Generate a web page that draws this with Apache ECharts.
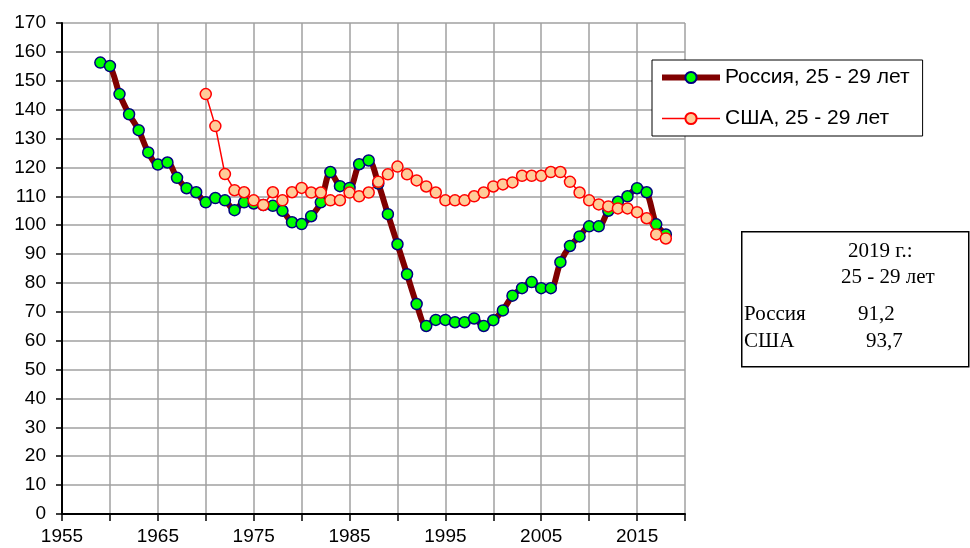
<!DOCTYPE html>
<html>
<head>
<meta charset="utf-8">
<script src="https://cdn.jsdelivr.net/npm/echarts@6/dist/echarts.min.js"></script>
<style>
  html, body { margin: 0; padding: 0; background: #fff; }
  #chart { width: 970px; height: 548px; }
</style>
</head>
<body>
<div id="chart"></div>
<script>
// первая точка рядов
const RU_START = 1959;
const US_START = 1970;

const ruValues = [
  156.3, 155.1, 145.4, 138.4, 132.9, 125.2, 121.0, 121.7, 116.4, 112.8,
  111.4, 107.9, 109.4, 108.6, 105.2, 107.9, 107.5, 107.0, 106.7, 105.0,
  101.0, 100.4, 103.1, 107.9, 118.4, 113.5, 112.9, 121.1, 122.4, 114.4,
  103.8, 93.4, 83.0, 72.7, 65.1, 67.2, 67.2, 66.4, 66.4, 67.7,
  65.1, 67.1, 70.5, 75.6, 78.2, 80.3, 78.2, 78.2, 87.2, 92.8,
  96.1, 99.6, 99.6, 105.0, 108.1, 110.0, 112.8, 111.4, 100.3, 96.8
];

const usValues = [
  145.4, 134.3, 117.7, 112.1, 111.4, 108.6, 107.0, 111.4, 108.6, 111.4,
  112.9, 111.3, 111.3, 108.6, 108.6, 111.3, 110.0, 111.3, 115.0, 117.6,
  120.3, 117.6, 115.5, 113.4, 111.3, 108.6, 108.6, 108.6, 110.0, 111.3,
  113.4, 114.1, 114.8, 117.1, 117.1, 117.1, 118.4, 118.4, 115.0, 111.3,
  108.6, 107.2, 106.5, 105.8, 105.8, 104.5, 102.4, 96.8, 95.4
];

const seriesNames = ['Россия, 25 - 29 лет', 'США, 25 - 29 лет'];
const noteLines = ['2019 г.:', '25 - 29 лет'];
const noteRows = [['Россия', '91,2'], ['США', '93,7']];

const ruData = ruValues.map((v, i) => [RU_START + i, v]);
const usData = usValues.map((v, i) => [US_START + i, v]);

const chart = echarts.init(document.getElementById('chart'));

const serifFont = '21px "Liberation Serif", "Times New Roman"';

const option = {
  animation: false,
  backgroundColor: '#fff',
  grid: { left: 62, right: 285, top: 23, bottom: 34, containLabel: false },
  legend: {
    orient: 'vertical',
    left: 652,
    top: 60,
    padding: [7, 13, 7, 7],
    itemWidth: 58,
    itemHeight: 14,
    itemGap: 20,
    backgroundColor: '#fff',
    borderColor: '#000',
    borderWidth: 1,
    borderRadius: 0,
    textStyle: { fontFamily: 'Liberation Sans, Arial', fontSize: 21, color: '#000' },
    data: [
      { name: seriesNames[0], lineStyle: { width: 6, color: '#800000' } },
      { name: seriesNames[1], lineStyle: { width: 1.5, color: '#ff0000' } }
    ]
  },
  xAxis: {
    type: 'value',
    min: 1955,
    max: 2020,
    interval: 5,
    axisLine: { show: true, onZero: false, lineStyle: { color: '#000', width: 2 } },
    axisTick: { show: true, inside: false, length: 7, lineStyle: { color: '#000', width: 1.5 } },
    axisLabel: {
      margin: 13,
      fontFamily: 'Liberation Sans, Arial',
      fontSize: 19,
      color: '#000',
      formatter: v => ((v - 1955) % 10 === 0 ? String(v) : '')
    },
    splitLine: { show: true, lineStyle: { color: '#a0a0a0', width: 1.5 } }
  },
  yAxis: {
    type: 'value',
    min: 0,
    max: 170,
    interval: 10,
    axisLine: { show: true, lineStyle: { color: '#000', width: 2 } },
    axisTick: { show: true, inside: false, length: 6, lineStyle: { color: '#000', width: 1.5 } },
    axisLabel: { margin: 16, fontFamily: 'Liberation Sans, Arial', fontSize: 19, color: '#000' },
    splitLine: { show: true, lineStyle: { color: '#a0a0a0', width: 1.5 } }
  },
  series: [
    {
      name: seriesNames[0],
      type: 'line',
      data: ruData,
      smooth: 0.3,
      symbol: 'circle',
      symbolSize: 11,
      lineStyle: { color: '#800000', width: 6 },
      itemStyle: { color: '#00ff00', borderColor: '#000080', borderWidth: 1.5 },
      z: 2
    },
    {
      name: seriesNames[1],
      type: 'line',
      data: usData,
      symbol: 'circle',
      symbolSize: 11,
      lineStyle: { color: '#ff0000', width: 1.5 },
      itemStyle: { color: '#ffcc99', borderColor: '#ff0000', borderWidth: 1.5 },
      z: 3
    }
  ],
  graphic: [
    {
      type: 'rect',
      left: 741,
      top: 231,
      shape: { width: 227, height: 135 },
      style: { fill: '#fff', stroke: '#000', lineWidth: 1.5 }
    },
    { type: 'text', left: 848, top: 241, style: { text: noteLines[0], font: serifFont, fill: '#000' } },
    { type: 'text', left: 841, top: 267, style: { text: noteLines[1], font: serifFont, fill: '#000' } },
    { type: 'text', left: 744, top: 304, style: { text: noteRows[0][0], font: serifFont, fill: '#000' } },
    { type: 'text', left: 858, top: 304, style: { text: noteRows[0][1], font: serifFont, fill: '#000' } },
    { type: 'text', left: 744, top: 331, style: { text: noteRows[1][0], font: serifFont, fill: '#000' } },
    { type: 'text', left: 866, top: 331, style: { text: noteRows[1][1], font: serifFont, fill: '#000' } }
  ]
};

chart.setOption(option);
</script>
</body>
</html>
